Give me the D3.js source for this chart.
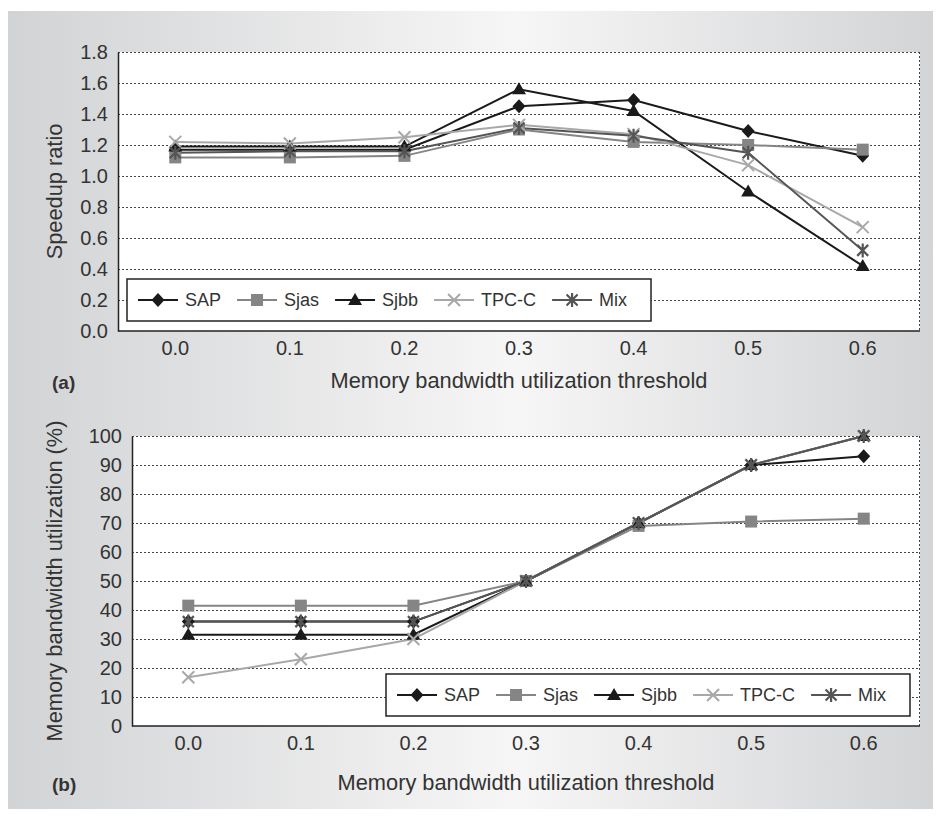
<!DOCTYPE html>
<html>
<head>
<meta charset="utf-8">
<script src="https://cdn.jsdelivr.net/npm/d3@7"></script>
<style>
  html, body { margin: 0; padding: 0; background: #fff; }
  svg { display: block; }
  text { font-family: "Liberation Sans", Arial, Helvetica, sans-serif; fill: #333; }
</style>
</head>
<body>
<svg id="chart" width="940" height="818"></svg>
<script>
// ---------- data ----------
const thresholds = ["0.0", "0.1", "0.2", "0.3", "0.4", "0.5", "0.6"];
const seriesNames = ["SAP", "Sjas", "Sjbb", "TPC-C", "Mix"];

// (a) Speedup ratio
const speedupSAP  = [1.17, 1.17, 1.17, 1.45, 1.49, 1.29, 1.13];
const speedupSjas = [1.12, 1.12, 1.13, 1.30, 1.22, 1.20, 1.17];
const speedupSjbb = [1.19, 1.19, 1.19, 1.56, 1.42, 0.90, 0.42];
const speedupTPCC = [1.22, 1.21, 1.25, 1.33, 1.27, 1.07, 0.67];
const speedupMix  = [1.15, 1.16, 1.16, 1.31, 1.26, 1.15, 0.52];
const speedupTicks = ["0.0","0.2","0.4","0.6","0.8","1.0","1.2","1.4","1.6","1.8"];

// (b) Memory bandwidth utilization (%)
const utilSAP  = [36, 36, 36, 50, 70, 90, 93];
const utilSjas = [41.5, 41.5, 41.5, 50, 69, 70.5, 71.5];
const utilSjbb = [31.5, 31.5, 31.5, 50, 70, 90, 100];
const utilTPCC = [16.8, 23, 30, 50, 70, 90, 100];
const utilMix  = [36, 36, 36, 50, 70, 90, 100];
const utilTicks = ["0","10","20","30","40","50","60","70","80","90","100"];

// ---------- styles ----------
const styles = {
  "SAP":   { color: "#1a1a1a", marker: "diamond" },
  "Sjas":  { color: "#858585", marker: "square" },
  "Sjbb":  { color: "#1a1a1a", marker: "triangle" },
  "TPC-C": { color: "#a8a8a8", marker: "x" },
  "Mix":   { color: "#555555", marker: "star" }
};

const svg = d3.select("#chart");

// background
const defs = svg.append("defs");
const grad = defs.append("linearGradient").attr("id", "bg").attr("x1", "0").attr("x2", "1").attr("y1", "0").attr("y2", "0");
grad.append("stop").attr("offset", "0%").attr("stop-color", "#d2d3d5");
grad.append("stop").attr("offset", "55%").attr("stop-color", "#f6f6f6");
grad.append("stop").attr("offset", "100%").attr("stop-color", "#d3d4d6");
svg.append("rect").attr("x", 8).attr("y", 11).attr("width", 925).attr("height", 798).attr("fill", "url(#bg)");

function drawMarker(g, type, x, y, color) {
  if (type === "diamond") {
    g.append("path").attr("d", `M${x},${y-7}L${x+6.5},${y}L${x},${y+7}L${x-6.5},${y}Z`).attr("fill", color);
  } else if (type === "square") {
    g.append("rect").attr("x", x - 6).attr("y", y - 6).attr("width", 12).attr("height", 12).attr("fill", color);
  } else if (type === "triangle") {
    g.append("path").attr("d", `M${x},${y-7}L${x+7},${y+5}L${x-7},${y+5}Z`).attr("fill", color);
  } else if (type === "x") {
    g.append("path").attr("d", `M${x-6},${y-6}L${x+6},${y+6}M${x-6},${y+6}L${x+6},${y-6}`)
      .attr("stroke", color).attr("stroke-width", 2).attr("fill", "none");
  } else if (type === "star") {
    g.append("path").attr("d", `M${x-5.5},${y-5.5}L${x+5.5},${y+5.5}M${x-5.5},${y+5.5}L${x+5.5},${y-5.5}M${x},${y-7}L${x},${y+7}`)
      .attr("stroke", color).attr("stroke-width", 2.2).attr("fill", "none");
  }
}

function drawPanel(cfg) {
  const { left, right, top, bottom, domain, ticks, series, yLabel, panelLabel, legendX, legendY } = cfg;
  const g = svg.append("g");
  const x = d3.scaleBand().domain(thresholds).range([left, right]).padding(0);
  const y = d3.scaleLinear().domain(domain).range([bottom, top]);

  g.append("rect").attr("x", left).attr("y", top).attr("width", right - left).attr("height", bottom - top).attr("fill", "#fff");

  // gridlines
  const tickVals = ticks.map(Number);
  g.append("g").selectAll("line").data(tickVals.filter(v => v !== domain[0])).join("line")
    .attr("x1", left).attr("x2", right)
    .attr("y1", d => Math.round(y(d)) + 0.5).attr("y2", d => Math.round(y(d)) + 0.5)
    .attr("stroke", "#444").attr("stroke-width", 1).attr("stroke-dasharray", "2,2");
  // right dotted border
  g.append("line").attr("x1", right - 0.5).attr("x2", right - 0.5).attr("y1", top).attr("y2", bottom)
    .attr("stroke", "#444").attr("stroke-width", 1).attr("stroke-dasharray", "2,2");

  // axes
  const yAxis = d3.axisLeft(y).tickValues(tickVals).tickFormat((d, i) => ticks[i]).tickSize(0).tickPadding(10);
  const ya = g.append("g").attr("transform", `translate(${left},0)`).call(yAxis);
  ya.select(".domain").attr("stroke", "#222").attr("stroke-width", 1.5);
  ya.selectAll("text").style("font-size", "20px").attr("fill", "#333");

  const xAxis = d3.axisBottom(x).tickSize(0).tickPadding(10);
  const xa = g.append("g").attr("transform", `translate(0,${bottom})`).call(xAxis);
  xa.select(".domain").attr("stroke", "#222").attr("stroke-width", 1.5).attr("d", `M${left},0H${right}`);
  xa.selectAll("text").style("font-size", "20px").attr("fill", "#333");

  // lines
  const line = d3.line().x((d, i) => x(thresholds[i]) + x.bandwidth() / 2).y(d => y(d));
  series.forEach(s => {
    const st = styles[s.name];
    g.append("path").datum(s.values).attr("d", line).attr("fill", "none")
      .attr("stroke", st.color).attr("stroke-width", 2);
  });
  series.forEach(s => {
    const st = styles[s.name];
    s.values.forEach((v, i) => drawMarker(g, st.marker, x(thresholds[i]) + x.bandwidth() / 2, y(v), st.color));
  });

  // axis titles
  g.append("text").attr("transform", `translate(54,${(top + bottom) / 2}) rotate(-90)`)
    .attr("text-anchor", "middle").attr("dominant-baseline", "central")
    .style("font-size", "21.8px").text(yLabel);
  g.append("text").attr("x", (left + right) / 2).attr("y", cfg.titleY)
    .attr("text-anchor", "middle").attr("dominant-baseline", "central")
    .style("font-size", "21.8px").text("Memory bandwidth utilization threshold");
  g.append("text").attr("x", 52).attr("y", cfg.titleY + 2)
    .attr("dominant-baseline", "central")
    .style("font-size", "19px").style("font-weight", "bold").attr("fill", "#111").text(panelLabel);

  // legend
  const lg = g.append("g");
  lg.append("rect").attr("x", legendX).attr("y", legendY).attr("width", 524).attr("height", 42)
    .attr("fill", "#fff").attr("stroke", "#222").attr("stroke-width", 1.5);
  let cx = legendX + 11;
  const cy = legendY + 21;
  seriesNames.forEach(name => {
    const st = styles[name];
    lg.append("line").attr("x1", cx).attr("x2", cx + 40).attr("y1", cy).attr("y2", cy)
      .attr("stroke", st.color).attr("stroke-width", 2);
    drawMarker(lg, st.marker, cx + 20, cy, st.color);
    const t = lg.append("text").attr("x", cx + 47).attr("y", cy).attr("dominant-baseline", "central")
      .style("font-size", "18px").text(name);
    cx += 47 + t.node().getComputedTextLength() + 16;
  });
}

drawPanel({
  left: 118, right: 920, top: 52, bottom: 331,
  domain: [0, 1.8], ticks: speedupTicks,
  series: [
    { name: "SAP", values: speedupSAP },
    { name: "Sjas", values: speedupSjas },
    { name: "Sjbb", values: speedupSjbb },
    { name: "TPC-C", values: speedupTPCC },
    { name: "Mix", values: speedupMix }
  ],
  yLabel: "Speedup ratio", panelLabel: "(a)", titleY: 380,
  legendX: 127, legendY: 279
});

drawPanel({
  left: 132, right: 920, top: 436, bottom: 726,
  domain: [0, 100], ticks: utilTicks,
  series: [
    { name: "SAP", values: utilSAP },
    { name: "Sjas", values: utilSjas },
    { name: "Sjbb", values: utilSjbb },
    { name: "TPC-C", values: utilTPCC },
    { name: "Mix", values: utilMix }
  ],
  yLabel: "Memory bandwidth utilization (%)", panelLabel: "(b)", titleY: 782,
  legendX: 386, legendY: 674
});
</script>
</body>
</html>
